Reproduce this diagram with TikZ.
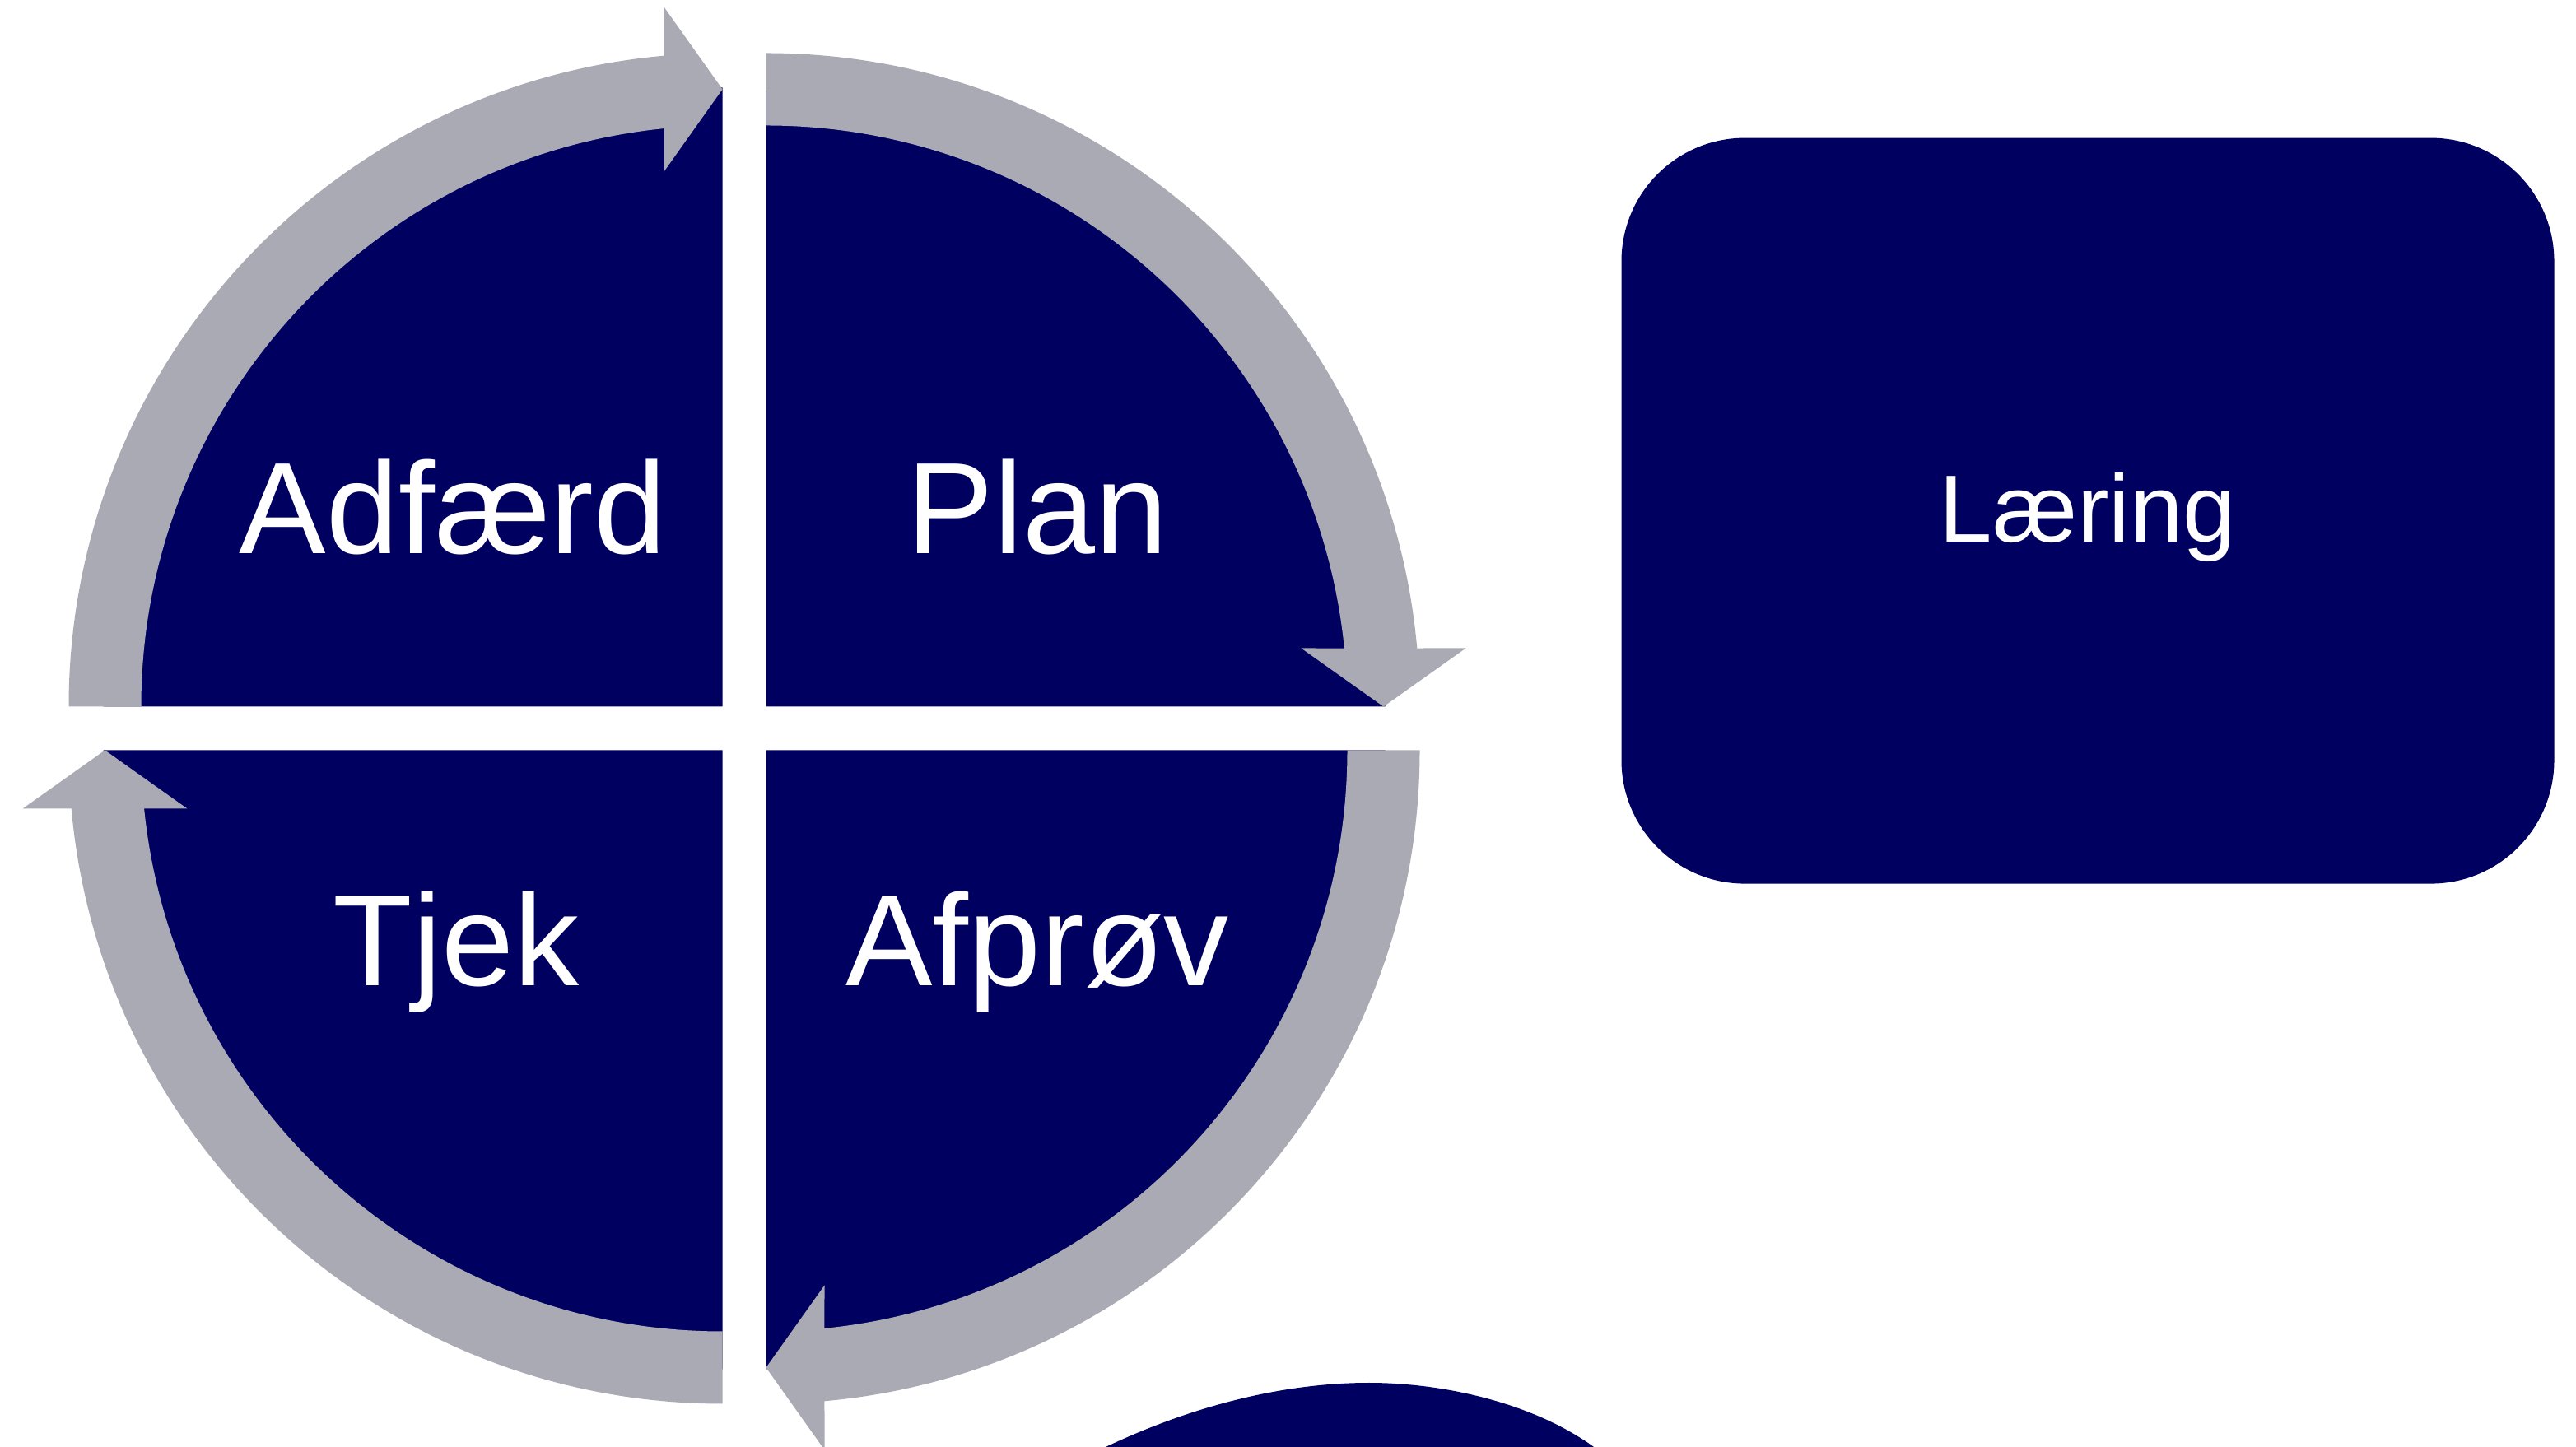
\documentclass[tikz,border=0pt]{standalone}
\usepackage{fontspec}
\setmainfont{Liberation Sans}
\usetikzlibrary{positioning}
\definecolor{cyclenavy}{RGB}{0,0,96}
\definecolor{cyclegray}{RGB}{170,170,181}
\tikzset{
    quarter/.style={fill=cyclenavy},
    ringarrow/.style={fill=cyclegray},
    steplabel/.style={text=white,font=\fontsize{45}{50}\selectfont,anchor=base,inner sep=0pt},
    learnbox/.style={fill=cyclenavy,rounded corners=1.5cm,minimum width=11.33cm,
        minimum height=9.06cm,text=white,font=\fontsize{33}{38}\selectfont,
        text height=0.84cm,text depth=0.09cm}
}

\begin{document}
\begin{tikzpicture}
    \useasboundingbox (0,0) rectangle (31.29,17.58);
    % the four quarters, each with its curved arrow
    \foreach \rot in {0,-90,-180,-270}{
        \begin{scope}[shift={(9.04,8.73)},rotate=\rot,shift={(-0.265,0.265)}]
            \fill[quarter] (0,0) -- (180:7.52) arc (180:90:7.52) -- cycle;
            \fill[ringarrow] (180:7.94) arc (180:95.13:7.94) -- (-0.71,8.5) -- (0,7.5)
                -- (-0.71,6.5) -- (95.77:7.06) arc (95.77:180:7.06) -- cycle;
        \end{scope}
    }
    \node[steplabel] (adf) at (5.5,10.855) {Adfærd};
    \node[steplabel] (plan) at (12.6,10.855) {Plan};
    \node[steplabel] (tjek) at (5.54,5.607) {Tjek};
    \node[steplabel] (afp) at (12.6,5.607) {Afprøv};
    \node[learnbox] (laering) at (25.36,11.374) {Læring};
    % shape cut off at the bottom edge
    \fill[quarter] (13.43,0) .. controls (14.7,0.6) and (15.8,0.78) .. (16.63,0.78)
        .. controls (17.5,0.78) and (18.6,0.55) .. (19.36,0) -- cycle;
\end{tikzpicture}
\end{document}
